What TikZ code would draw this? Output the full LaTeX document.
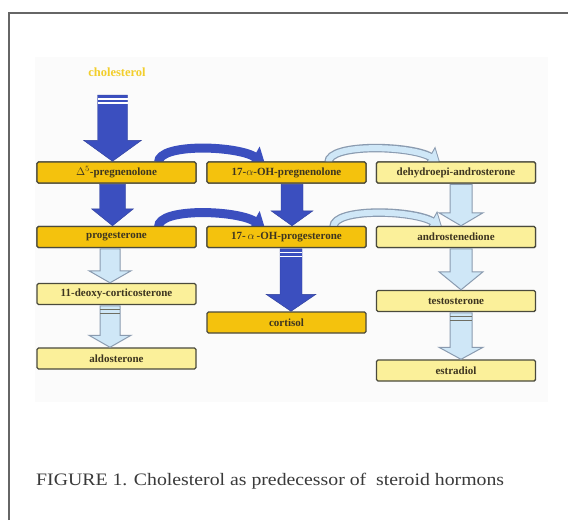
\documentclass[tikz,border=0pt]{standalone}
\usepackage{fontspec}
\setmainfont{Liberation Serif}
\usetikzlibrary{calc,arrows.meta}
\definecolor{gold}{HTML}{F4C20D}
\definecolor{lyel}{HTML}{FBF09A}
\definecolor{bord}{HTML}{4A4A3C}
\definecolor{dblue}{HTML}{3B4FBF}
\definecolor{lblue}{HTML}{CFE7F7}
\definecolor{lbord}{HTML}{8A9BB0}
\definecolor{choltxt}{HTML}{F2CE2C}
\definecolor{labtxt}{HTML}{3D3520}
\definecolor{captxt}{HTML}{3A3A3A}
\tikzset{
  box/.style={draw=bord, line width=1.4pt, rounded corners=1.5pt, minimum width=159pt, minimum height=21pt,
    inner sep=0pt, font=\fontsize{11}{12}\selectfont\bfseries, text=labtxt},
  dbox/.style={box, fill=gold},
  lbox/.style={box, fill=lyel},
  barrow/.style={fill=dblue, draw=dblue!80!black, line width=0.4pt},
  larrow/.style={fill=lblue, draw=lbord, line width=1pt},
  wstripe/.style={draw=white, line width=1.1pt},
  gstripe/.style={draw=bord!80, line width=1.1pt},
  bluearc/.style={draw=dblue, line width=9pt, -{Triangle[length=12pt,width=22pt]}},
  lightarcout/.style={draw=lbord, line width=8.5pt, -{Triangle[length=12pt,width=22pt]}},
  lightarcin/.style={draw=lblue, line width=6pt, shorten >=1.4pt, -{Triangle[length=9.5pt,width=17.5pt]}},
}
% vertical block arrow: #1 style, #2 start (top centre), #3 tip, #4 shaft half width, #5 head half width, #6 head length
\newcommand\blockarrow[6]{%
  \path[#1] let \p1=#2, \p2=#3 in
    (\x1-#4,\y1) -- (\x1-#4,\y2+#6) -- (\x1-#5,\y2+#6) -- (\x1,\y2) --
    (\x1+#5,\y2+#6) -- (\x1+#4,\y2+#6) -- (\x1+#4,\y1) -- cycle;}
\newcommand\stripes[3]{% #1 style, #2 start, #3 half width
  \path[#1] let \p1=#2 in (\x1-#3,\y1-4pt) -- (\x1+#3,\y1-4pt) (\x1-#3,\y1-8pt) -- (\x1+#3,\y1-8pt);}
\begin{document}
\begin{tikzpicture}[x=1pt,y=-1pt]
\useasboundingbox (0,0) rectangle (568,520);
\fill[white] (0,0) rectangle (568,520);
\fill[black!1.5] (35,57) rectangle (548,402);
\draw[black!60, line width=1.6pt] (9,520) -- (9,13) -- (568,13);

% nodes
\node[font=\fontsize{12.5}{14}\selectfont\bfseries, text=choltxt] (chol) at (117,72) {cholesterol};
\node[dbox] (preg)   at (116.5,172.5) {$\Delta^{5}$-pregnenolone};
\node[dbox] (ohpreg) at (286.5,172.5) {17-$\alpha$-OH-pregnenolone};
\node[lbox] (dhea)   at (456,172.5) {dehydroepi-androsterone};
\node[dbox] (prog)   at (116.5,237) {progesterone};
\node[dbox] (ohprog) at (286.5,237) {17-\,$\alpha$\,-OH-progesterone};
\node[lbox] (andro)  at (456,237) {androstenedione};
\node[lbox] (deoxy)  at (116.5,294) {11-deoxy-corticosterone};
\node[dbox] (cort)   at (286.5,322.5) {cortisol};
\node[lbox] (testo)  at (456,301) {testosterone};
\node[lbox] (aldo)   at (116.5,358.5) {aldosterone};
\node[lbox] (estr)   at (456,370.5) {estradiol};
\coordinate (cs) at (112.5,95);

% curved arrows (drawn first, under boxes)
\draw[bluearc] ($(preg.north)+(42,1)$) .. controls +(0,-19) and +(-30,-17) .. ($(ohpreg.north)+(-22,1)$);
\draw[bluearc] ($(prog.north)+(42,1)$) .. controls +(0,-19) and +(-30,-17) .. ($(ohprog.north)+(-22,1)$);
\draw[lightarcout] ($(ohpreg.north)+(42,1)$) .. controls +(0,-19) and +(-30,-17) .. ($(dhea.north)+(-16,1)$);
\draw[lightarcin]  ($(ohpreg.north)+(42,1)$) .. controls +(0,-19) and +(-30,-17) .. ($(dhea.north)+(-16,1)$);
\draw[lightarcout] ($(ohprog.north)+(47,1)$) .. controls +(0,-19) and +(-30,-17) .. ($(andro.north)+(-14,1)$);
\draw[lightarcin]  ($(ohprog.north)+(47,1)$) .. controls +(0,-19) and +(-30,-17) .. ($(andro.north)+(-14,1)$);

% redraw boxes on top of arc feet
\node[dbox] at (preg) {$\Delta^{5}$-pregnenolone};
\node[dbox] at (ohpreg) {17-$\alpha$-OH-pregnenolone};
\node[lbox] at (dhea) {dehydroepi-androsterone};
\node[dbox] at (prog) {progesterone};
\node[dbox] at (ohprog) {17-\,$\alpha$\,-OH-progesterone};
\node[lbox] at (andro) {androstenedione};

% straight block arrows
\blockarrow{barrow}{(cs)}{($(preg.north)+(-4,0)$)}{15pt}{29pt}{21pt}
\stripes{wstripe}{(cs)}{15pt}
\blockarrow{barrow}{($(preg.south)+(-4,0.7)$)}{($(prog.north)+(-4,0)$)}{13pt}{21pt}{17pt}
\blockarrow{barrow}{($(ohpreg.south)+(5.5,0.7)$)}{($(ohprog.north)+(5.5,0)$)}{11pt}{21pt}{15pt}
\blockarrow{barrow}{($(ohprog.south)+(4.5,0.7)$)}{($(cort.north)+(4.5,0)$)}{11pt}{25pt}{17pt}
\stripes{wstripe}{($(ohprog.south)+(4.5,0.7)$)}{11pt}
\blockarrow{larrow}{($(prog.south)+(-6.5,0.7)$)}{($(deoxy.north)+(-6.5,0)$)}{10pt}{21pt}{12pt}
\blockarrow{larrow}{($(deoxy.south)+(-6.5,0.7)$)}{($(aldo.north)+(-6.5,0)$)}{10pt}{21pt}{12pt}
\stripes{gstripe}{($(deoxy.south)+(-6.5,0.7)$)}{10pt}
\blockarrow{larrow}{($(dhea.south)+(5,0.7)$)}{($(andro.north)+(5,0)$)}{11pt}{22pt}{13pt}
\blockarrow{larrow}{($(andro.south)+(5,0.7)$)}{($(testo.north)+(5,0)$)}{11pt}{22pt}{18pt}
\blockarrow{larrow}{($(testo.south)+(5,0.7)$)}{($(estr.north)+(5,0)$)}{11pt}{22pt}{12pt}
\stripes{gstripe}{($(testo.south)+(5,0.7)$)}{11pt}

% caption
\node[anchor=base west, inner sep=0pt, text=captxt, font=\fontsize{17.5}{20}\selectfont] (cap) at (36,485)
  {\scalebox{1.13}[1]{FIGURE 1. Cholesterol as predecessor of\ \ steroid hormons}};
\end{tikzpicture}
\end{document}
